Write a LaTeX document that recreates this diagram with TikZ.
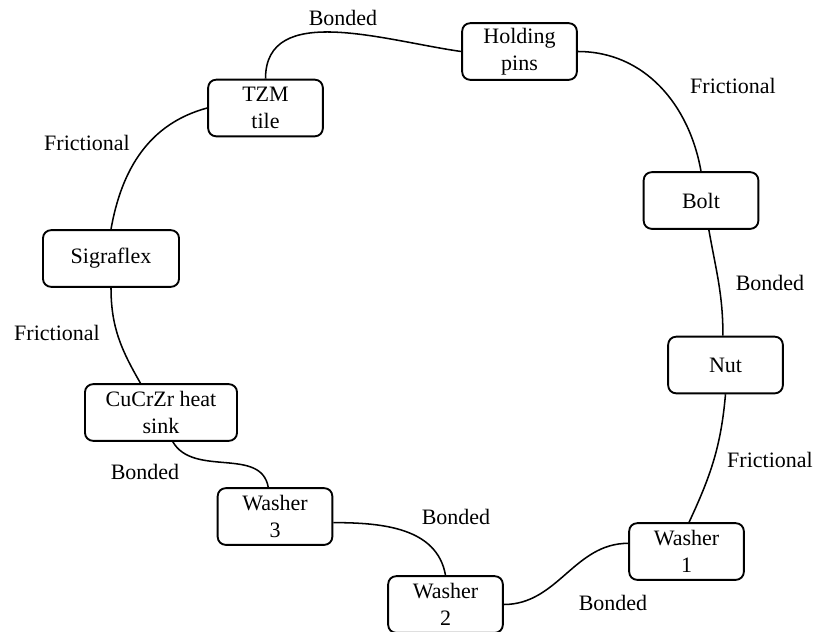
\documentclass[tikz,border=0pt]{standalone}
\usepackage{fontspec}
\setmainfont{Liberation Serif}

\begin{document}
\begin{tikzpicture}[x=0.75pt,y=0.75pt,
	part/.style={draw,rounded corners=6pt,line width=1.4pt,minimum width=86pt,minimum height=42.5pt,align=center,inner sep=1pt,font=\fontsize{16.5}{20}\selectfont},
	link/.style={line width=1.15pt},
	joint/.style={font=\fontsize{16.5}{20}\selectfont}]
			%%%%% START %%%%%
			
			\useasboundingbox (0,0) rectangle (815,-632);
			
			\node[part] (pins) at (519.5,-51.5) {Holding\\pins};
			\node[part] (tzm) at (265.5,-108) {TZM\\tile};
			\node[part] (bolt) at (701,-200.5) {Bolt};
			\node[part,minimum width=102pt] (sig) at (111,-258.5) {Sigraflex};
			\node[part] (nut) at (725.5,-365) {Nut};
			\node[part,minimum width=114pt] (cu) at (161,-412.5) {CuCrZr heat\\sink};
			\node[part] (w3) at (275,-516.5) {Washer\\3};
			\node[part] (w1) at (686.5,-551.5) {Washer\\1};
			\node[part] (w2) at (445.5,-604.5) {Washer\\2};
			
			\node[joint] (jtp) at (343,-18) {Bonded};
			\node[joint] (jpb) at (733,-86) {Frictional};
			\node[joint] (jts) at (87,-143) {Frictional};
			\node[joint] (jbn) at (770,-283) {Bonded};
			\node[joint] (jsc) at (57,-333) {Frictional};
			\node[joint] (jnw) at (770,-460) {Frictional};
			\node[joint] (jcw) at (145,-472) {Bonded};
			\node[joint] (jww) at (456,-517) {Bonded};
			\node[joint] (jwv) at (613,-603) {Bonded};
			
			\draw[link] (tzm.north) to[out=90,in=172] (pins.west);
			\draw[link] (pins.east) to[out=0,in=100] (bolt.north);
			\draw[link] (bolt.-75) to[out=-80,in=90] (nut.95);
			\draw[link] (nut.south) to[out=-95,in=65] (w1.85);
			\draw[link] (w1.172) to[out=180,in=0] (w2.east);
			\draw[link] (w3.-6) to[out=0,in=100] (w2.north);
			\draw[link] (cu.-68) to[out=-60,in=100] (w3.103);
			\draw[link] (sig.south) to[out=-90,in=120] (cu.125);
			\draw[link] (tzm.west) to[out=195,in=80] (sig.north);
			
			%%%%% END %%%%%
\end{tikzpicture}
\end{document}
